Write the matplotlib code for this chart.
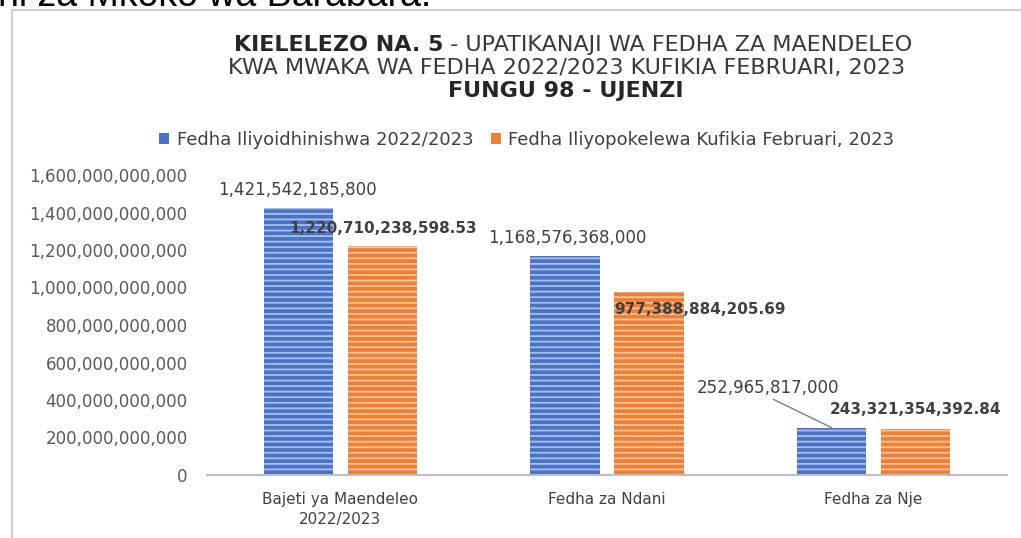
import matplotlib
matplotlib.use("Agg")
import matplotlib.pyplot as plt
from matplotlib.lines import Line2D
from matplotlib.patches import Patch
from matplotlib.ticker import FuncFormatter
import numpy as np

categories = ["Bajeti ya Maendeleo\n2022/2023", "Fedha za Ndani", "Fedha za Nje"]
series_names = ["Fedha Iliyoidhinishwa 2022/2023", "Fedha Iliyopokelewa Kufikia Februari, 2023"]
approved = [1421542185800, 1168576368000, 252965817000]
received = [1220710238598.53, 977388884205.69, 243321354392.84]
approved_labels = ["1,421,542,185,800", "1,168,576,368,000", "252,965,817,000"]
received_labels = ["1,220,710,238,598.53", "977,388,884,205.69", "243,321,354,392.84"]
yticks = [0, 200e9, 400e9, 600e9, 800e9, 1000e9, 1200e9, 1400e9, 1600e9]

title_bold = "KIELELEZO NA. 5"
title_rest = " - UPATIKANAJI WA FEDHA ZA MAENDELEO"
title_line2 = "KWA MWAKA WA FEDHA 2022/2023 KUFIKIA FEBRUARI, 2023"
title_line3 = "FUNGU 98 - UJENZI"
top_text = "hi za Mkoko wa Barabara."

W, H = 1021, 538
fig = plt.figure(figsize=(W / 100, H / 100), dpi=100)
fig.patch.set_facecolor("white")
plt.rcParams["font.family"] = ["DejaVu Sans"]
plt.rcParams["hatch.linewidth"] = 1.3

def fx(px):
    return px / W

def fy(py):
    return 1 - py / H

# frame of the chart area
fig.add_artist(Line2D([fx(12), fx(1021)], [fy(10), fy(10)], color="#D0D0D0", lw=1.5))
fig.add_artist(Line2D([fx(12), fx(12)], [fy(10), fy(538)], color="#D0D0D0", lw=1.5))

# cropped text of the page above
fig.text(fx(-2), fy(6), top_text, fontsize=27, family="Liberation Sans", color="black",
         ha="left", va="baseline")

ax = fig.add_axes([fx(207), fy(475), (1007 - 207) / W, 300 / H])
x = np.arange(len(categories))
bw = 0.26
off = 0.158
blue, blue_l = "#4A73C6", "#A9BFEA"
orange, orange_l = "#EE7F35", "#F8C49E"
b1 = ax.bar(x - off, approved, bw, color=blue, edgecolor=blue_l, linewidth=0, hatch="---",
            label=series_names[0], zorder=2)
b2 = ax.bar(x + off, received, bw, color=orange, edgecolor=orange_l, linewidth=0, hatch="---",
            label=series_names[1], zorder=2)

ax.set_xlim(-0.5, 2.5)
ax.set_ylim(0, 1600e9)
ax.set_yticks(yticks)
ax.yaxis.set_major_formatter(FuncFormatter(lambda v, p: f"{int(round(v)):,}"))
ax.set_xticks(x)
ax.set_xticklabels(categories, fontsize=11, color="#404040", linespacing=1.45)
ax.tick_params(axis="y", length=0, pad=14, labelsize=12, labelcolor="#595959")
ax.tick_params(axis="x", length=0, pad=12)
for s in ["top", "right", "left"]:
    ax.spines[s].set_visible(False)
ax.spines["bottom"].set_color("#BFBFBF")
ax.spines["bottom"].set_linewidth(1.5)
ax.spines["bottom"].set_zorder(3)

# data labels (offsets in pixels)
a_off = [(-1, 18), (2, 18), (-64, 40)]
r_off = [(1, 18), (51, -18), (0, 20)]
for i in range(3):
    kw = {}
    if i == 2:
        kw = dict(arrowprops=dict(arrowstyle="-", color="#7F7F7F", lw=1,
                                  shrinkA=0, shrinkB=0,
                                  relpos=(0.5, 0.0)))
    ax.annotate(approved_labels[i], xy=(x[i] - off, approved[i]), xytext=a_off[i],
                textcoords="offset pixels", ha="center", va="center",
                fontsize=12, color="#404040", zorder=5, **kw)
    ax.annotate(received_labels[i], xy=(x[i] + off, received[i]), xytext=r_off[i],
                textcoords="offset pixels", ha="center", va="center",
                fontsize=11, fontweight="bold", color="#404040", zorder=5)

# legend
handles = [Patch(facecolor=blue), Patch(facecolor=orange)]
fig.legend(handles, series_names, loc="center", bbox_to_anchor=(fx(527), fy(140)), ncol=2,
           frameon=False, fontsize=13, handlelength=0.55, handleheight=0.55,
           handletextpad=0.4, columnspacing=1.0, labelcolor="#404040")

# title
tcol = "#3A3A3A"
tfs = 16
fig.canvas.draw()
r = fig.canvas.get_renderer()
tb = fig.text(0, fy(45), title_bold, fontsize=tfs, fontweight="bold", color="#262626",
              ha="left", va="center")
tr = fig.text(0, fy(45), title_rest, fontsize=tfs, color=tcol, ha="left", va="center")
wb = tb.get_window_extent(r).width
wr = tr.get_window_extent(r).width
start = 573 - (wb + wr) / 2
tb.set_x(fx(start))
tr.set_x(fx(start + wb))
fig.text(fx(567), fy(68), title_line2, fontsize=tfs, color=tcol, ha="center", va="center")
fig.text(fx(566), fy(91), title_line3, fontsize=tfs, fontweight="bold", color="#262626",
         ha="center", va="center")

fig.savefig("out.png", dpi=100, facecolor="white")
